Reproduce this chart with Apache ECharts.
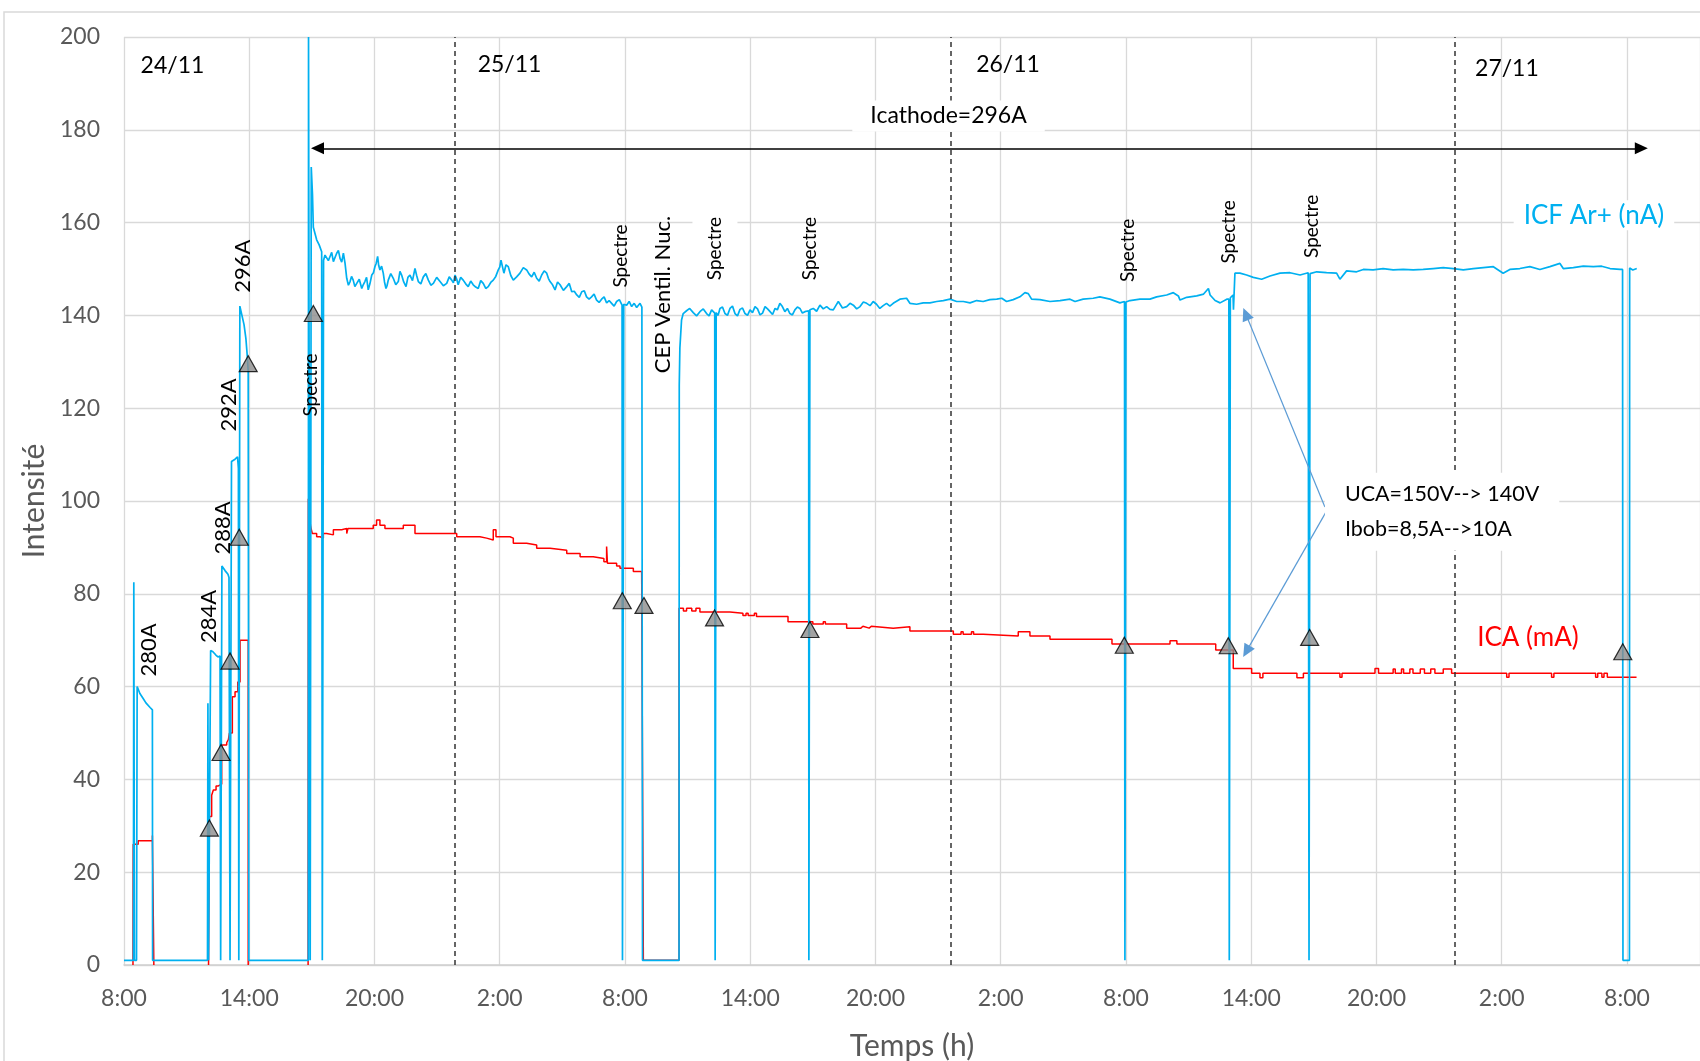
<!DOCTYPE html>
<html><head><meta charset="utf-8">
<script src="https://cdn.jsdelivr.net/npm/echarts@6/dist/echarts.min.js"></script>
<style>html,body{margin:0;padding:0;background:#fff}#c{width:1700px;height:1061px}</style>
</head><body><div id="c"></div>
<script>
// Time = hours elapsed since 24/11 08:00
const startHour = 8;
const tickStep = 6;
const xMaxHours = 75.5;

// ICF Ar+ (nA) : [hours, value]
const icfPoints = [
[0,1],[0.45,1],[0.47,82.5],[0.5,1],[0.6,1],[0.63,60],[0.7,59.2],[0.76,58.5],[0.91,57.5],[1.05,56.5],[1.25,55.5],[1.36,55],[1.37,1],
[4.0,1],[4.02,56.4],[4.05,1],[4.13,1],[4.15,67.8],[4.26,67.5],[4.4,66.8],[4.5,66.4],[4.6,66.6],[4.63,1],[4.68,1],[4.69,86],[4.84,85],[4.98,84.2],[5.03,83.5],[5.08,1],[5.13,1],[5.15,108.5],[5.32,109],[5.44,109.5],[5.48,107],[5.5,1],[5.53,1],[5.55,142],[5.65,140],[5.75,138],[5.84,135],[5.91,131],[5.95,128],[5.98,1],
[8.83,1],[8.84,200],[8.92,1],[8.96,1],[8.97,172],[9.03,166],[9.07,159],[9.23,156.3],[9.35,155.2],[9.47,153.7],[9.5,1],[9.55,1],[9.56,151.9],[9.63,153],[9.71,153.4],[9.79,151.8],[9.87,152.7],[9.95,153.6],[10.03,151.6],[10.11,152],[10.19,153.4],[10.27,154],[10.35,152.3],[10.43,151.5],[10.51,153.4],[10.59,151.2],[10.67,148],[10.75,146.5],[10.83,147.3],[10.9,148.4],[10.98,147.6],[11.06,146.2],[11.15,146.9],[11.27,147.8],[11.39,145.8],[11.46,146.6],[11.54,147.3],[11.62,148.2],[11.7,145.5],[11.78,146.8],[11.87,148.7],[11.95,149.2],[12.02,150.5],[12.08,151.2],[12.15,152.7],[12.2,150.8],[12.26,149.8],[12.34,150.6],[12.42,149.1],[12.48,147.2],[12.55,145.8],[12.6,146.4],[12.66,147.6],[12.78,149],[12.9,148],[13.02,146.6],[13.14,147.3],[13.22,149.5],[13.3,148.7],[13.4,147.2],[13.51,146.2],[13.6,148.2],[13.7,148.7],[13.82,147.5],[13.94,150.1],[14.02,148.6],[14.1,147.3],[14.22,146.8],[14.34,148.3],[14.46,149],[14.58,147.6],[14.7,146.5],[14.82,146.9],[14.98,148.2],[15.14,147.3],[15.3,146.4],[15.46,146.9],[15.58,148.3],[15.7,147.6],[15.78,147],[15.86,148.7],[15.94,147.8],[16.01,146.6],[16.13,148.2],[16.25,147.6],[16.37,146.8],[16.49,146.2],[16.61,147.4],[16.73,146.6],[16.85,146.1],[16.97,145.8],[17.09,147.5],[17.21,146.9],[17.33,145.8],[17.45,146.2],[17.57,147.1],[17.69,147.6],[17.81,148.4],[17.93,149.8],[18.0,150.4],[18.06,151.9],[18.13,150.5],[18.2,149.1],[18.3,150.9],[18.41,150.5],[18.53,148.6],[18.65,147.6],[18.81,148.3],[18.97,149.1],[19.13,150.3],[19.29,149.8],[19.41,148.9],[19.53,148.3],[19.65,149.3],[19.77,148],[19.89,147.4],[20.01,148.7],[20.13,149.6],[20.25,149.1],[20.33,148],[20.41,147.3],[20.53,146.6],[20.65,145.5],[20.77,147.2],[20.89,146.6],[21.05,145.4],[21.21,146.2],[21.33,146.9],[21.45,145.1],[21.57,145.2],[21.69,144.4],[21.81,143.9],[21.93,145.1],[22.05,145.3],[22.16,144],[22.28,143.5],[22.4,144],[22.52,144.6],[22.64,143.3],[22.76,142.8],[22.88,143.5],[23.0,144],[23.12,142.7],[23.24,143.2],[23.36,142.6],[23.48,142],[23.6,143],[23.73,143.4],[23.86,142.2],[23.88,1],[23.93,1],[23.94,142.4],[24.08,142.2],[24.2,143],[24.32,141.9],[24.44,142.6],[24.56,141.7],[24.72,142.6],[24.81,141.8],[24.84,1],
[26.59,1],[26.6,125],[26.63,133],[26.71,139],[26.79,140.4],[26.95,141],[27.1,141.5],[27.27,140.6],[27.43,139.9],[27.59,140.8],[27.75,141.4],[27.91,140.4],[28.03,139.9],[28.15,141.2],[28.3,140.5],[28.32,1],[28.36,1],[28.37,140.6],[28.46,140],[28.55,141.5],[28.67,141.8],[28.79,140.4],[28.91,140],[29.03,141.5],[29.15,142],[29.27,140.4],[29.39,139.9],[29.51,141.3],[29.63,141.6],[29.75,140.4],[29.87,140],[29.99,141.2],[30.11,140.6],[30.23,141.9],[30.35,141.4],[30.47,140.1],[30.59,140.5],[30.71,141.9],[30.83,141.4],[30.95,140.8],[31.07,140.2],[31.19,141.5],[31.3,141.2],[31.42,142.6],[31.54,141.9],[31.66,140.8],[31.78,141.5],[31.9,140.4],[32.02,140.1],[32.14,141.2],[32.26,141.8],[32.38,141.5],[32.5,140.5],[32.62,140.8],[32.8,141],[32.81,1],[32.85,1],[32.86,141.2],[33.02,141.5],[33.18,140.9],[33.34,142.2],[33.5,141.4],[33.66,141.9],[33.82,141.3],[33.98,141.2],[34.1,142.1],[34.22,143],[34.42,141.6],[34.62,141.9],[34.78,142.6],[34.94,142.2],[35.1,141.4],[35.26,141.9],[35.42,142.9],[35.58,142.6],[35.74,142.1],[35.89,143],[36.05,142.4],[36.21,141.5],[36.37,142.1],[36.53,142.6],[36.69,142],[36.85,142.6],[37.17,143.5],[37.49,143.7],[37.65,142.6],[37.97,142.4],[38.29,142.7],[38.61,142.7],[38.93,143],[39.25,143.2],[39.57,143.5],[39.89,143],[40.21,143],[40.53,142.7],[40.85,143.2],[41.16,143],[41.48,143.4],[41.81,143.5],[42.05,143.7],[42.28,143],[42.6,143.4],[42.92,144],[43.16,144.9],[43.32,144.7],[43.48,143.5],[43.88,143.4],[44.36,143],[44.84,143.2],[45.32,143.5],[45.56,143],[45.95,143.5],[46.43,143.7],[46.75,144],[47.23,143.5],[47.71,142.7],[47.93,143],[47.95,1],[47.99,1],[48.0,142.9],[48.19,143.2],[48.67,143.5],[49.15,143.5],[49.47,144],[49.95,144.4],[50.27,144.9],[50.51,144.2],[50.59,143.3],[50.91,143.9],[51.39,144.2],[51.72,144.6],[51.95,145.8],[52.03,144.4],[52.27,143.2],[52.51,142.7],[52.83,143.5],[52.93,143.5],[52.95,1],[52.99,1],[53.0,143.8],[53.13,144.4],[53.15,141.2],[53.2,141.2],[53.22,149.1],[53.46,149.1],[53.78,148.7],[54.1,148.2],[54.5,147.8],[54.9,148.5],[55.38,149.1],[55.86,149.2],[56.34,148.7],[56.73,149.2],[56.77,1],[56.81,1],[56.82,149],[57.14,149.4],[57.61,149.2],[58.09,149.1],[58.25,147.8],[58.57,149.6],[59.05,149.4],[59.37,149.9],[59.84,149.8],[60.32,150.1],[60.8,149.8],[61.28,149.9],[61.76,149.8],[62.24,149.9],[62.72,150.1],[63.2,150.3],[63.68,150.1],[64.16,149.8],[64.64,150.1],[65.12,150.3],[65.6,150.5],[66.07,149.1],[66.39,149.9],[66.87,150.1],[67.35,150.5],[67.83,149.9],[68.31,150.5],[68.79,151.2],[68.95,150.1],[69.43,150.3],[69.91,150.6],[70.39,150.5],[70.79,150.6],[71.19,150.1],[71.67,149.9],[71.79,149.9],[71.81,1],[72.12,1],[72.13,150.2],[72.28,149.8],[72.47,150.1]
];

// ICA (mA) : [hours, value], value held until next point
const icaPoints = [
[0.43,0],[0.44,26],[0.68,26.8],[1.36,27.9],[1.43,0],[1.44,null],
[4.05,0],[4.09,32],[4.2,36.6],[4.28,37.7],[4.41,38.6],[4.52,39],[4.68,47.4],[4.92,47.9],[5.0,48.6],[5.05,50],[5.19,57.8],[5.32,58.9],[5.45,61],[5.56,70],[5.95,0],[5.96,null],
[8.82,0],[8.83,100.5],[8.88,97],[8.94,94.5],[9.02,93],[9.23,92.3],[9.39,92],[9.55,93],[9.71,92.7],[10.03,93.8],[10.43,94.1],[10.67,93],[10.73,94.1],[11.94,94.8],[12.1,95.9],[12.26,94.8],[12.5,94.1],[13.38,94.8],[13.94,93],[15.94,92.3],[17.05,92],[17.37,91.6],[17.69,93.8],[17.82,92.3],[18.49,92],[18.65,90.9],[19.29,90.5],[19.77,89.8],[20.41,89.4],[21.21,88.7],[21.85,88],[22.48,87.6],[22.99,86.9],[23.12,90.2],[23.16,86.6],[23.6,86],[23.76,85.5],[24.4,84.8],[24.8,84],[24.88,1],
[26.59,76.9],[26.8,76.3],[26.95,76.9],[27.2,76.3],[27.4,76.9],[27.59,76.1],[29.03,75.8],[29.65,75.3],[29.8,75.8],[29.9,75.3],[30.2,75.8],[30.3,75.1],[31.81,74],[33.0,73.5],[33.5,74],[33.6,73.5],[34.62,72.6],[35.3,73],[35.4,72.6],[35.7,73],[35.8,72.6],[36.85,72.9],[37.65,72],[39.73,71.3],[40.1,71.8],[40.2,71.3],[40.6,71.8],[40.7,71.3],[41.16,70.9],[42.84,71.8],[43.4,70.9],[44.36,70.2],[47.33,69.2],[50.11,69.9],[50.44,69.2],[52.3,67.9],[53.14,63.9],[54.02,62.9],[54.42,61.9],[54.56,62.9],[56.19,61.9],[56.5,62.9],[58.25,62],[58.35,62.9],[59.93,63.9],[60.1,62.9],[60.8,63.8],[60.9,62.9],[61.2,63.8],[61.3,62.9],[61.6,63.8],[61.75,62.9],[62.1,63.8],[62.3,62.9],[62.6,63.8],[62.8,62.9],[63.2,63.8],[63.6,62.9],[66.24,62],[66.35,62.9],[68.39,62],[68.5,62.9],[70.5,62],[70.6,62.9],[70.8,62],[70.9,62.9],[71.06,62],[72.46,62]
];

// Triangle markers
const markerPoints = [[4.09,29.5],[4.65,45.8],[5.08,65.5],[5.52,92.2],[5.95,129.6],[9.07,140.4],[23.87,78.5],[24.91,77.5],[28.29,74.8],[32.86,72.3],[47.92,68.9],[52.9,68.8],[56.8,70.6],[71.8,67.5]];

// Day separators (hours)
const dayBoundaries = [15.84, 39.6, 63.76];
const dayLabels = ['24/11','25/11','26/11','27/11'];
const dayLabelAt = [[2.32,193.8],[18.47,194],[42.35,194],[66.25,193.3]];

const currentLabels = ['280A','284A','288A','292A','296A'];
const currentLabelAt = [[1.21,67.9],[4.08,75.1],[4.74,94.2],[5.03,120.7],[5.7,150.6]];
const spectreAt = [[8.96,125],[23.78,152.8],[28.31,154.4],[32.86,154.4],[48.07,154],[52.91,158],[56.91,159.2]];

const fam = 'Lato, "Open Sans", sans-serif';
const chart = echarts.init(document.getElementById('c'), null, {renderer:'canvas'});

const option = {
  animation:false,
  backgroundColor:'#fff',
  grid:{left:124,right:0,top:37,bottom:96,containLabel:false,outerBoundsMode:'none'},
  xAxis:{type:'value',min:0,max:xMaxHours,interval:tickStep,
    axisLine:{show:true,onZero:false,lineStyle:{color:'#cfcfcf',width:1.5}},
    axisTick:{show:false},
    splitLine:{show:true,lineStyle:{color:'#d9d9d9',width:1.3}},
    axisLabel:{color:'#595959',fontSize:23,fontFamily:fam,margin:22,
      formatter:v=>Math.abs(v%tickStep)<1e-6?((startHour+v)%24)+':00':''},
    name:'Temps (h)',nameLocation:'middle',nameGap:66,
    nameTextStyle:{color:'#595959',fontSize:30,fontFamily:fam}},
  yAxis:{type:'value',min:0,max:200,interval:20,
    axisLine:{show:false},axisTick:{show:false},
    splitLine:{show:true,lineStyle:{color:'#d9d9d9',width:1.3}},
    axisLabel:{color:'#595959',fontSize:23,fontFamily:fam,margin:24},
    name:'Intensité',nameLocation:'middle',nameGap:75,
    nameTextStyle:{color:'#595959',fontSize:30,fontFamily:fam}},
  series:[
    {name:'ICA (mA)',type:'line',data:icaPoints,step:'end',showSymbol:false,connectNulls:false,
     lineStyle:{color:'#ff0000',width:1.5},itemStyle:{color:'#ff0000'},z:2,silent:true},
    {name:'ICF Ar+ (nA)',type:'line',data:icfPoints,showSymbol:false,
     lineStyle:{color:'#00b0f0',width:1.7},itemStyle:{color:'#00b0f0'},z:3,silent:true,
     markLine:{silent:true,symbol:['none','none'],label:{show:false},animation:false,
       lineStyle:{color:'#333',type:[5,4],width:1.5},
       data:dayBoundaries.map(h=>({xAxis:h}))}},
    {name:'markers',type:'scatter',data:markerPoints,symbol:'triangle',symbolSize:[18,16],
     itemStyle:{color:'#8c8c8c',borderColor:'#000',borderWidth:1.2},z:6,silent:true},
    {name:'annot',type:'line',data:[],silent:true,z:5,
     markLine:{silent:true,animation:false,label:{show:false},symbol:['triangle','triangle'],symbolSize:[12,13],
       data:[
         [{coord:[9.27,176],lineStyle:{color:'#000',width:1.5,type:'solid'},itemStyle:{color:'#000'}},{coord:[72.69,176]}],
         [{coord:[57.53,98.7],symbol:'none',lineStyle:{color:'#5b9bd5',width:1.2,type:'solid'},itemStyle:{color:'#5b9bd5'}},{coord:[53.74,140.3],symbol:'triangle'}],
         [{coord:[57.58,97.6],symbol:'none',lineStyle:{color:'#5b9bd5',width:1.2,type:'solid'},itemStyle:{color:'#5b9bd5'}},{coord:[53.77,67.6],symbol:'triangle'}]
       ]}}
  ]
};
chart.setOption(option);

function px(p){return chart.convertToPixel({gridIndex:0},p);}
function label(text,at,opts){
  const p=px(at);
  return {type:'text',x:p[0],y:p[1],rotation:opts.rot?Math.PI/2:0,z:50,silent:true,
    style:Object.assign({text:text,fill:opts.color||'#000',fontSize:opts.size,fontFamily:fam,
      align:opts.align||'center',verticalAlign:'middle'},opts.box?{backgroundColor:'#fff',padding:opts.box}:{})};
}
const g=[];
g.push({type:'rect',shape:{x:4,y:12,width:1800,height:1200},style:{fill:'none',stroke:'#d9d9d9',lineWidth:1.5},z:-10,silent:true});
dayLabels.forEach((t,i)=>g.push(label(t,dayLabelAt[i],{size:23})));
currentLabels.forEach((t,i)=>g.push(label(t,currentLabelAt[i],{size:22,rot:true})));
spectreAt.forEach((a,i)=>g.push(label('Spectre',a,{size:19,rot:true,box:i===2?[13,4]:null})));
g.push(label('CEP Ventil. Nuc.',[25.8,144.5],{size:22,rot:true}));
g.push(label('Icathode=296A',[39.5,183],{size:23,box:[4,18]}));
g.push(label('ICF Ar+ (nA)',[70.42,161.6],{size:26,color:'#00b0f0',box:[2,10]}));
g.push(label('ICA (mA)',[67.26,70.5],{size:26,color:'#ff0000'}));
const u=px([57.53,97.7]);
g.push({type:'text',x:u[0],y:u[1],z:50,silent:true,style:{text:'UCA=150V--> 140V\nIbob=8,5A-->10A',fill:'#000',fontSize:21.5,fontFamily:fam,lineHeight:35,align:'left',verticalAlign:'middle',backgroundColor:'#fff',padding:[4,20,4,20]}});
chart.setOption({graphic:g});
</script></body></html>
